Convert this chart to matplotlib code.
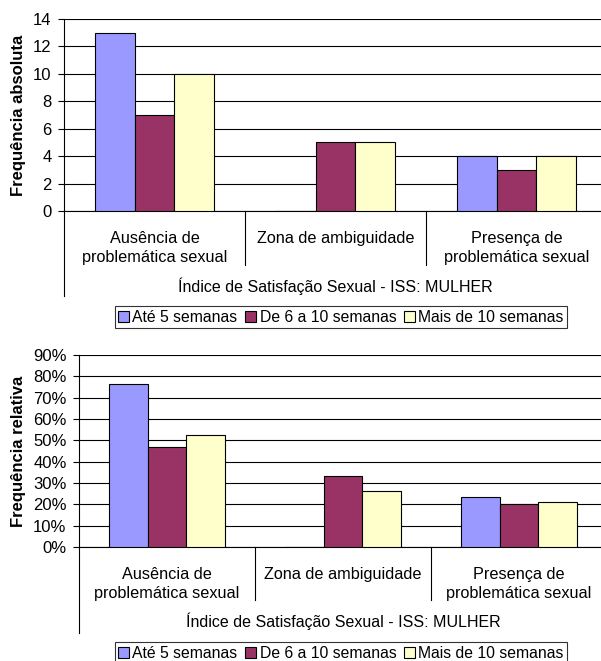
# -*- coding: utf-8 -*-
"""
Índice de Satisfação Sexual - ISS: MULHER
frequência absoluta e relativa por tempo de pós-parto
"""

import numpy as np
import matplotlib.pyplot as plt
import matplotlib.transforms as mtransforms
from matplotlib.ticker import FuncFormatter

plt.rcParams['font.family'] = ['Liberation Sans', 'DejaVu Sans']

# dados
categorias = ['Ausência de\nproblemática sexual', 'Zona de ambiguidade',
              'Presença de\nproblemática sexual']
series = ['Até 5 semanas', 'De 6 a 10 semanas', 'Mais de 10 semanas']
absoluta_ate5 = [13, 0, 4]
absoluta_6a10 = [7, 5, 3]
absoluta_mais10 = [10, 5, 4]
relativa_ate5 = [0.765, 0.0, 0.235]
relativa_6a10 = [0.467, 0.333, 0.200]
relativa_mais10 = [0.526, 0.263, 0.211]

cores = ['#9999FF', '#993366', '#FFFFCC']
W, H = 601, 661

fig = plt.figure(figsize=(W / 100, H / 100), dpi=100)


def px_axes(left, top, right, bottom):
    return fig.add_axes([left / W, 1 - bottom / H, (right - left) / W, (bottom - top) / H])


def desenha(ax, dados, ymax, passo, ylabel, fmt, ext_sep, ext_eixo, y_leg):
    x = np.arange(len(categorias))
    w = 0.22
    barras = []
    for i, (vals, cor) in enumerate(zip(dados, cores)):
        b = ax.bar(x + (i - 1) * w, vals, width=w, color=cor, edgecolor='black',
                   linewidth=0.8, zorder=3, label=series[i])
        barras.append(b)
    ax.set_xlim(-0.5, 2.5)
    ax.set_ylim(0, ymax)
    ax.set_yticks(np.arange(0, ymax + passo / 2, passo))
    ax.yaxis.set_major_formatter(fmt)
    ax.grid(axis='y', color='black', linewidth=0.8, zorder=0)
    ax.set_xticks([])
    for s in ['top', 'right']:
        ax.spines[s].set_visible(False)
    ax.spines['bottom'].set_linewidth(0.8)
    ax.spines['left'].set_visible(False)
    ax.tick_params(axis='y', length=4, width=0.8, pad=5, labelsize=12)

    trans = mtransforms.blended_transform_factory(ax.transData, ax.transAxes)
    # eixo y prolongado
    ax.plot([-0.5, -0.5], [1, ext_eixo], transform=trans, color='black',
            linewidth=0.8, clip_on=False)
    # separadores das categorias
    for xs in [0.5, 1.5]:
        ax.plot([xs, xs], [0, ext_sep], transform=trans, color='black',
                linewidth=0.8, clip_on=False)
    for xi, cat in zip(x, categorias):
        ax.annotate(cat, xy=(xi, 0), xycoords=trans, xytext=(0, -14.5),
                    textcoords='offset points', ha='center', va='top',
                    fontsize=11.7, linespacing=1.3)
    ax.text(0.5, ext_sep - 0.11, 'Índice de Satisfação Sexual - ISS: MULHER',
            transform=ax.transAxes, ha='center', va='center', fontsize=11.5)

    pos = ax.get_position()
    fig.text(19 / W, (pos.y0 + pos.y1) / 2, ylabel, rotation=90, ha='center',
             va='center', fontsize=12, fontweight='bold')

    leg = fig.legend(handles=barras, loc='center', bbox_to_anchor=(341 / W, 1 - y_leg / H),
                     ncol=3, frameon=True, fancybox=False, fontsize=11.3,
                     handlelength=0.7, handleheight=0.7, handletextpad=0.2,
                     columnspacing=0.5, borderpad=0.2, borderaxespad=0)
    leg.get_frame().set_edgecolor('black')
    leg.get_frame().set_linewidth(0.8)


ax1 = px_axes(64, 19, 607, 211)
desenha(ax1, [absoluta_ate5, absoluta_6a10, absoluta_mais10], 14, 2,
        'Frequência absoluta', FuncFormatter(lambda v, p: f'{v:.0f}'),
        -54 / 192, -85 / 192, 317)

ax2 = px_axes(79, 355, 607, 547)
desenha(ax2, [relativa_ate5, relativa_6a10, relativa_mais10], 0.9, 0.1,
        'Frequência relativa', FuncFormatter(lambda v, p: f'{v * 100:.0f}%'),
        -53 / 192, -86 / 192, 653)

fig.savefig('out.png', dpi=100)
